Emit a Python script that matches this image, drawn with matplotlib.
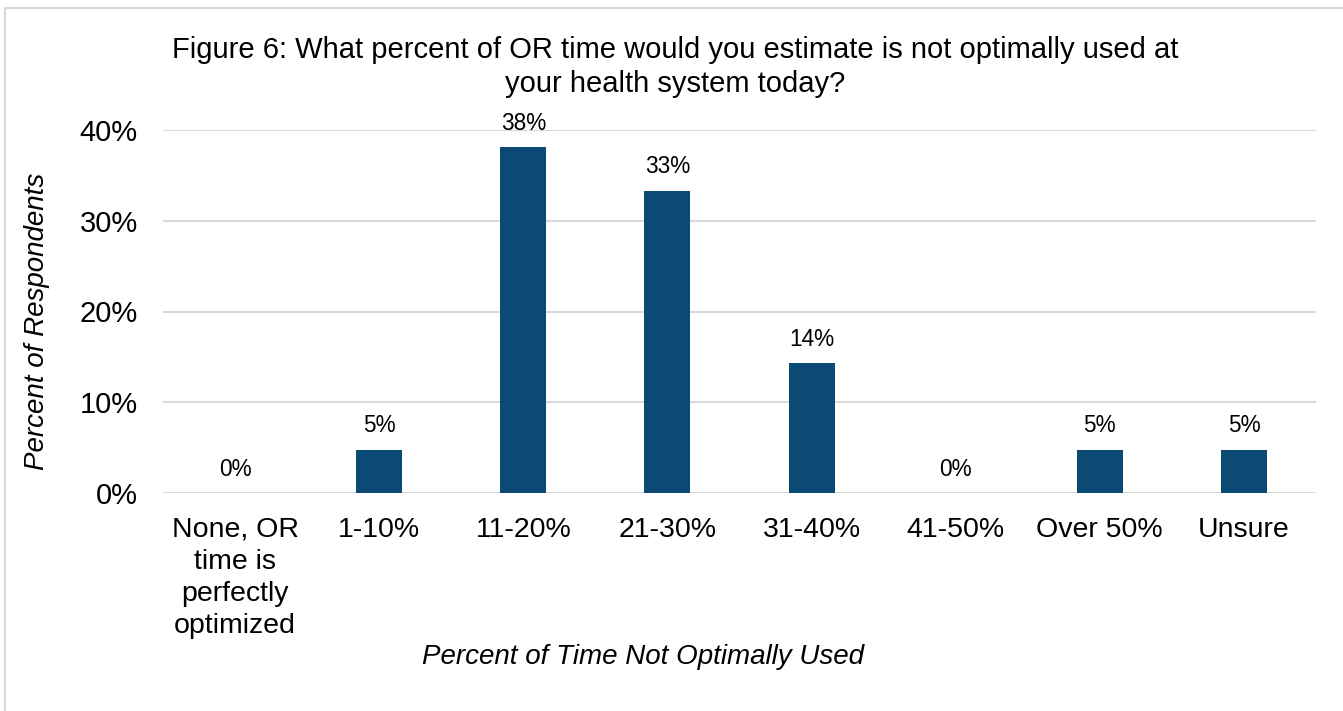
import matplotlib.pyplot as plt
from matplotlib.patches import Rectangle

plt.rcParams['font.family'] = ['Liberation Sans', 'DejaVu Sans']

# data
categories = ["None, OR\ntime is\nperfectly\noptimized", "1-10%", "11-20%", "21-30%",
              "31-40%", "41-50%", "Over 50%", "Unsure"]
shares = [0.0, 4.76, 38.1, 33.33, 14.29, 0.0, 4.76, 4.76]
yticks = [0, 10, 20, 30, 40]

fig = plt.figure(figsize=(13.43, 7.11), dpi=100)
W, H = 1343, 711

# light outer frame like the exported chart area (right/bottom edges fall off the image)
fig.patches.append(Rectangle((5 / W, -0.2), 1.2, 1.2 - 8 / H, transform=fig.transFigure,
                             fill=False, edgecolor='#d9d9d9', linewidth=1.5))

ax = fig.add_axes([163 / W, 1 - 493 / H, (1316 - 163) / W, (493 - 130) / H])
x = range(len(categories))
bars = ax.bar(x, shares, width=0.32, color='#0b4a74', zorder=3)

ax.set_xlim(-0.5, len(categories) - 0.5)
ax.set_ylim(0, 40)
ax.set_yticks(yticks)
ax.set_yticklabels([f"{t}%" for t in yticks], fontsize=21)
ax.set_xticks(list(x))
ax.set_xticklabels(categories, fontsize=20.5, linespacing=1.31)
ax.tick_params(axis='both', length=0)
ax.tick_params(axis='y', pad=18)
ax.tick_params(axis='x', pad=17)
ax.grid(axis='y', color='#d9d9d9', linewidth=1.5, zorder=0)
for s in ax.spines.values():
    s.set_visible(False)

for b, v in zip(bars, shares):
    ax.annotate(f"{round(v)}%", (b.get_x() + b.get_width() / 2, v),
                xytext=(0, 9), textcoords='offset points',
                ha='center', va='bottom', fontsize=16.3)

fig.text(675 / W, 1 - 50 / H, "Figure 6: What percent of OR time would you estimate is not optimally used at",
         ha='center', va='center', fontsize=21)
fig.text(675 / W, 1 - 84 / H, "your health system today?", ha='center', va='center', fontsize=21)
fig.text(643 / W, 1 - 657 / H, "Percent of Time Not Optimally Used", ha='center', va='center',
         fontsize=20, style='italic')
fig.text(37 / W, 1 - 321 / H, "Percent of Respondents", ha='center', va='center',
         rotation=90, fontsize=20, style='italic')

fig.savefig("out.png", dpi=100)
